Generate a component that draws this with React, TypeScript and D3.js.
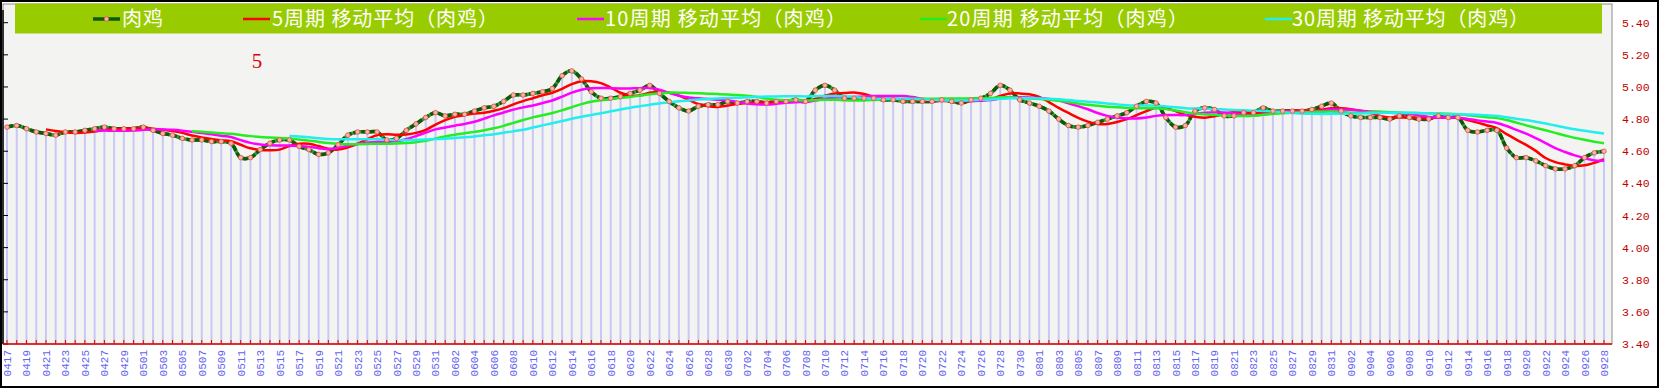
import React from "react";
import * as d3 from "d3";

// daily categories 04-17 .. 09-28
const days = d3.timeDay.range(new Date(2020, 3, 17), new Date(2020, 8, 29));
const dates = days.map(d3.timeFormat("%m%d"));

// 肉鸡 price, one value per day
const april = [4.75, 4.76, 4.74, 4.72, 4.71, 4.70, 4.72, 4.72, 4.73, 4.74, 4.75, 4.74, 4.74, 4.74];
const may = [4.75, 4.73, 4.71, 4.70, 4.68, 4.67, 4.67, 4.66, 4.66, 4.65, 4.56, 4.56, 4.61, 4.65, 4.67, 4.67, 4.63, 4.61, 4.58, 4.59, 4.64, 4.70, 4.72, 4.72, 4.72, 4.67, 4.68, 4.73, 4.77, 4.81, 4.84];
const june = [4.82, 4.83, 4.83, 4.85, 4.87, 4.88, 4.91, 4.95, 4.95, 4.96, 4.97, 4.99, 5.07, 5.10, 5.05, 4.97, 4.93, 4.93, 4.94, 4.96, 4.98, 5.01, 4.96, 4.91, 4.87, 4.85, 4.88, 4.89, 4.89, 4.91];
const july = [4.90, 4.91, 4.91, 4.90, 4.91, 4.91, 4.92, 4.91, 4.98, 5.01, 4.98, 4.93, 4.93, 4.93, 4.93, 4.92, 4.92, 4.91, 4.91, 4.91, 4.91, 4.92, 4.91, 4.90, 4.92, 4.93, 4.96, 5.01, 4.98, 4.92, 4.90];
const august = [4.88, 4.85, 4.80, 4.76, 4.75, 4.76, 4.78, 4.80, 4.82, 4.84, 4.88, 4.91, 4.90, 4.81, 4.75, 4.76, 4.85, 4.87, 4.86, 4.82, 4.82, 4.84, 4.84, 4.87, 4.85, 4.85, 4.85, 4.85, 4.86, 4.88, 4.90];
const september = [4.85, 4.82, 4.81, 4.81, 4.81, 4.80, 4.82, 4.81, 4.80, 4.80, 4.82, 4.81, 4.81, 4.73, 4.72, 4.73, 4.73, 4.62, 4.56, 4.56, 4.54, 4.51, 4.49, 4.49, 4.51, 4.56, 4.59, 4.60];
const price = [...april, ...may, ...june, ...july, ...august, ...september];

const yTicks = [3.4, 3.6, 3.8, 4.0, 4.2, 4.4, 4.6, 4.8, 5.0, 5.2, 5.4];
const periods = [5, 10, 20, 30];
const maColors = ["#ff0000", "#ff00ff", "#22ee22", "#22eeee"];
const seriesName = "肉鸡";
const legendNames = [seriesName, ...periods.map((p) => `${p}周期 移动平均（${seriesName}）`)];

const W = 1659;
const H = 389;
const left = 3;
const right = 1612;
const top = 4;
const bottom = 344;

// legend item placement: [symbol start, text start, text width]
const legendPos = [
  [93, 122, 41],
  [243, 272, 226],
  [577, 605, 241],
  [920, 947, 241],
  [1265, 1292, 237],
];

// trendline like the spreadsheet's n-period moving average
function movingAvg(vals: number[], n: number) {
  return vals.map((_, i) => (i < n - 1 ? null : d3.mean(vals.slice(i - n + 1, i + 1))));
}

export default function App() {
  const x = d3.scalePoint<string>().domain(dates).range([7, 1604]);
  const y = d3.scaleLinear().domain([3.4, 5.4]).range([bottom, 22.7]);

  const pts = dates.map((d, i) => ({ d, v: price[i] }));
  const line = d3
    .line<{ d: string; v: number | null }>()
    .defined((p) => p.v != null)
    .x((p) => x(p.d)!)
    .y((p) => y(p.v as number))
    .curve(d3.curveCatmullRom.alpha(0.5));

  const mas = periods.map((n) => {
    const m = movingAvg(price, n);
    return dates.map((d, i) => ({ d, v: m[i] as number | null })).filter((p) => p.v != null);
  });

  return (
    <div>
      <style>{`body{margin:0}`}</style>
      <svg width={W} height={H} style={{ display: "block" }}>
        <rect x={0} y={0} width={W} height={H} fill="#fff" />
        <rect x={left} y={top} width={right - left} height={bottom - top} fill="#f3f3f1" stroke="#8c8c8c" />

        {/* drop lines */}
        {pts.map((p) => (
          <line key={"dl" + p.d} x1={x(p.d)} x2={x(p.d)} y1={bottom} y2={y(p.v)} stroke="#c8c8f6" strokeWidth={2} />
        ))}

        {/* left axis */}
        <line x1={left} x2={left} y1={10} y2={bottom} stroke="#000" strokeWidth={1.5} />
        {yTicks.map((t) => (
          <line key={"lt" + t} x1={left} x2={left + 5} y1={y(t)} y2={y(t)} stroke="#000" />
        ))}

        {/* price line */}
        <path d={line(pts)!} fill="none" stroke="#3a963a" strokeWidth={3.5} />
        <path d={line(pts)!} fill="none" stroke="#0a5a0a" strokeWidth={3.5} strokeDasharray="6 2" />

        {mas.map((m, k) => (
          <path key={"ma" + k} d={line(m)!} fill="none" stroke={maColors[k]} strokeWidth={2.5} />
        ))}

        {pts.map((p) => (
          <circle key={"m" + p.d} cx={x(p.d)} cy={y(p.v)} r={2.3} fill="#f6b4ac" stroke="#e0503e" strokeWidth={0.8} />
        ))}

        {/* bottom axis */}
        <line x1={left} x2={right} y1={bottom} y2={bottom} stroke="#e00000" strokeWidth={1.5} />
        {dates.map((d) => (
          <line key={"xt" + d} x1={x(d)} x2={x(d)} y1={bottom} y2={bottom - 4} stroke="#e00000" />
        ))}
        {dates
          .filter((_, i) => i % 2 === 0)
          .map((d) => (
            <text
              key={"xl" + d}
              transform={`translate(${x(d)! + 4},${bottom + 6}) rotate(-90)`}
              textAnchor="end"
              fontFamily="Liberation Mono, monospace"
              fontSize={11}
              fill="#6464f0"
            >
              {d}
            </text>
          ))}

        {/* right value labels */}
        {yTicks.map((t) => (
          <text key={"yl" + t} x={1622} y={y(t)} dy="0.35em" fontFamily="Liberation Mono, monospace" fontSize={11.5} fill="#c00000">
            {t.toFixed(2)}
          </text>
        ))}

        {/* legend */}
        <rect x={15} y={3.5} width={1587} height={30} fill="#99cc00" />
        {legendNames.map((name, k) => {
          const [sx, tx, tw] = legendPos[k];
          const col = k === 0 ? "#0a5a0a" : maColors[k - 1];
          return (
            <g key={"lg" + k}>
              <line x1={sx} x2={sx + 27} y1={19} y2={19} stroke={col} strokeWidth={k === 0 ? 3.5 : 2.5} />
              {k === 0 && <circle cx={sx + 13.5} cy={19} r={2.3} fill="#f6b4ac" stroke="#e0503e" strokeWidth={0.8} />}
              <text
                x={tx}
                y={19}
                dy="0.36em"
                fill="#fff"
                fontFamily="Noto Sans CJK SC, sans-serif"
                fontSize={20}
                textLength={tw}
                lengthAdjust="spacing"
              >
                {name}
              </text>
            </g>
          );
        })}

        <text x={257} y={61} dy="0.35em" textAnchor="middle" fontFamily="Liberation Serif, serif" fontSize={21} fill="#e00000">
          5
        </text>

        <rect x={1} y={1} width={W - 2} height={H - 3} fill="none" stroke="#000" strokeWidth={2} />
      </svg>
    </div>
  );
}
